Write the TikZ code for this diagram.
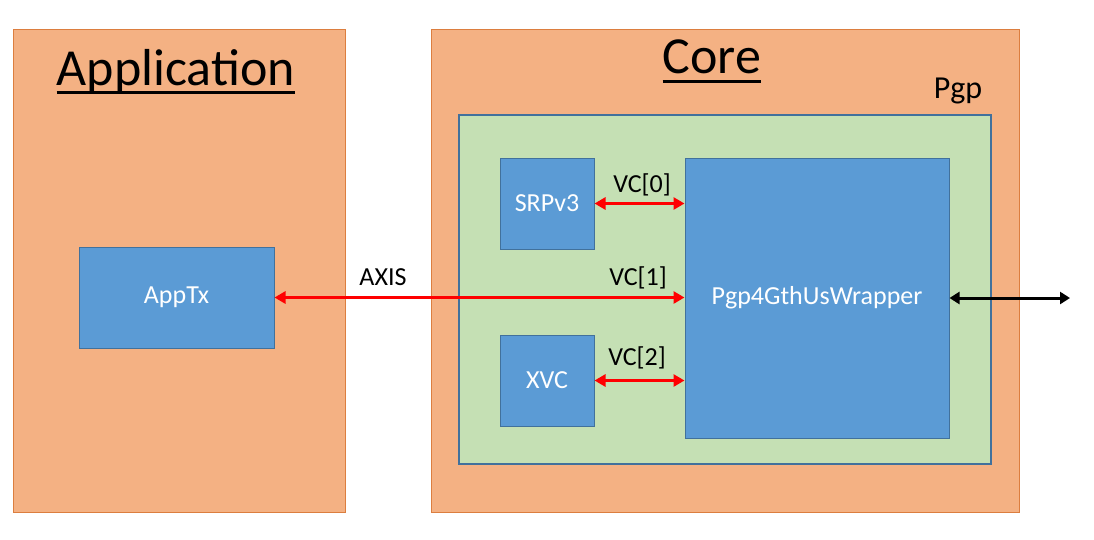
\documentclass[tikz,border=0pt]{standalone}
\usepackage{fontspec}
\setmainfont{Carlito}
\usetikzlibrary{arrows.meta}
\definecolor{orfill}{HTML}{F4B183}
\definecolor{ordraw}{HTML}{DC7E3F}
\definecolor{bfill}{HTML}{5B9BD5}
\definecolor{bdraw}{HTML}{41719C}
\definecolor{gfill}{HTML}{C5E0B4}
\definecolor{ared}{HTML}{FF0000}
\begin{document}
\begin{tikzpicture}[x=1pt,y=-1pt,
  region/.style={draw=ordraw,fill=orfill,line width=1pt,minimum width=#1,inner sep=0pt},
  block/.style={draw=bdraw,fill=bfill,line width=1pt,text=white,font=\fontsize{26}{30}\selectfont,inner sep=0pt},
  title/.style={anchor=base,inner sep=0pt,font=\fontsize{52}{60}\selectfont},
  lbl/.style={anchor=base,inner sep=0pt,font=\fontsize{26}{30}\selectfont},
  redarrow/.style={draw=ared,line width=3pt,{Triangle[length=11pt,width=12pt]}-{Triangle[length=11pt,width=12pt]}},
  redhead/.style={draw=ared,line width=3pt,-{Triangle[length=11pt,width=12pt]}},
  blkarrow/.style={draw=black,line width=3pt,{Triangle[length=10pt,width=12pt]}-{Triangle[length=10pt,width=12pt]}},
  uline/.style={line width=3pt}]
\useasboundingbox[fill=white] (0,0) rectangle (1094,539);
% regions
\node[region=332pt,minimum height=483pt] (app) at (179,270.5) {};
\node[region=588pt,minimum height=483pt] (core) at (725,270.5) {};
\node[draw=bdraw,fill=gfill,line width=2.5pt,minimum width=532pt,minimum height=349pt,inner sep=0pt] (pgp) at (725,289.5) {};
% titles
\node[title] (apptitle) at (176,85) {Application};
\draw[uline] ([yshift=-7pt]apptitle.base west) -- ([yshift=-7pt]apptitle.base east);
\node[title] (coretitle) at (712,73) {Core};
\draw[uline] ([yshift=-8pt]coretitle.base west) -- ([yshift=-8pt]coretitle.base east);
\node[anchor=base,inner sep=0pt,font=\fontsize{32}{38}\selectfont] (pgplbl) at (958,98) {Pgp};
% blocks
\node[block,minimum width=195pt,minimum height=101pt] (apptx) at (176.5,297.5) {AppTx};
\node[block,minimum width=94pt,minimum height=91pt] (srp) at (547,203.5) {SRPv3};
\node[block,minimum width=94pt,minimum height=91pt] (xvc) at (547,380.5) {XVC};
\node[block,minimum width=264pt,minimum height=280pt] (wrap) at (817,298) {Pgp4GthUsWrapper};
% connectors
\draw[redarrow] (srp.east) -- (srp.east -| wrap.west);
\draw[redarrow] (xvc.east) -- (xvc.east -| wrap.west);
\draw[redarrow] (apptx.east) -- (apptx.east -| wrap.west);
\coordinate (ext) at (1070,298);
\draw[blkarrow] (wrap.east) -- (ext);
% labels
\node[lbl] (vc0) at (642,192) {VC[0]};
\node[lbl] (vc1) at (638,285) {VC[1]};
\node[lbl] (vc2) at (637,365) {VC[2]};
\node[lbl] (axis) at (383,285) {AXIS};
\end{tikzpicture}
\end{document}
